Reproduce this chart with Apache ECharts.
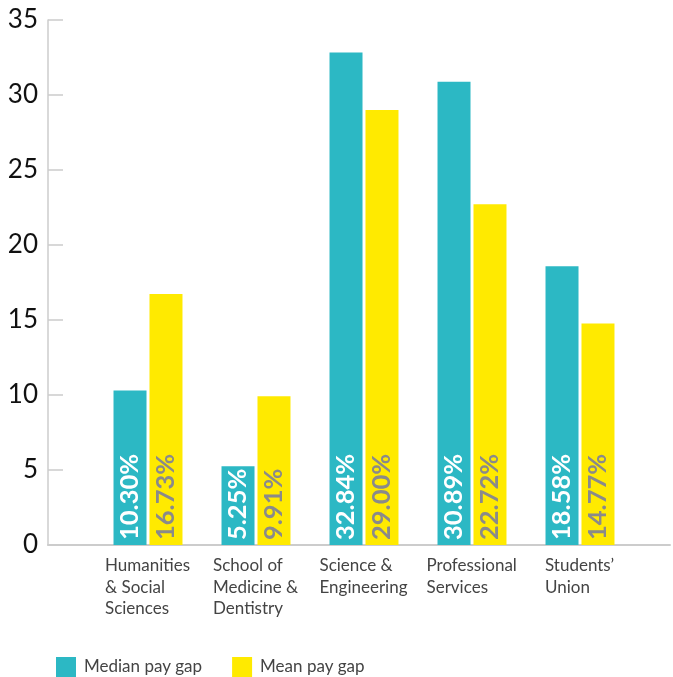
<!DOCTYPE html>
<html>
<head>
<meta charset="utf-8">
<script src="https://cdn.jsdelivr.net/npm/echarts@6/dist/echarts.min.js"></script>
<style>
  html, body { margin: 0; padding: 0; background: #fff; }
  #chart { width: 673px; height: 677px; }
</style>
</head>
<body>
<div id="chart"></div>
<script>
// pay gap by faculty
const categories = [
  "Humanities\n& Social\nSciences",
  "School of\nMedicine &\nDentistry",
  "Science &\nEngineering",
  "Professional\nServices",
  "Students’\nUnion"
];
const medianGap = [10.30, 5.25, 32.84, 30.89, 18.58];
const meanGap = [16.73, 9.91, 29.00, 22.72, 14.77];
const yTicks = [0, 5, 10, 15, 20, 25, 30, 35];

const FONT = "Lato";
const TEAL = "#2cb8c4";
const YELLOW = "#ffea00";

// measure each category block so lines can be left aligned in a centred block
const ctx = document.createElement("canvas").getContext("2d");
ctx.font = "17px " + FONT;
const rich = {};
categories.forEach((c, i) => {
  let w = 0;
  c.split("\n").forEach(l => { w = Math.max(w, ctx.measureText(l).width); });
  rich["c" + i] = { width: Math.ceil(w), align: "left", fontSize: 17, fontFamily: FONT, color: "#444", lineHeight: 21.5 };
});

const chart = echarts.init(document.getElementById("chart"));

const barLabel = (color) => ({
  show: true,
  position: "insideBottom",
  rotate: 90,
  align: "left",
  verticalAlign: "middle",
  distance: 5,
  fontFamily: FONT,
  fontWeight: "bold",
  fontSize: 25.5,
  color: color,
  formatter: p => p.value.toFixed(2) + "%"
});

chart.setOption({
  animation: false,
  textStyle: { fontFamily: FONT },
  legend: {
    left: 56,
    top: 657,
    padding: 0,
    icon: "rect",
    itemWidth: 20,
    itemHeight: 20,
    itemGap: 30,
    textStyle: { fontSize: 17, color: "#444", fontFamily: FONT, padding: [0, 0, 0, 3] },
    data: ["Median pay gap", "Mean pay gap"]
  },
  grid: [
    { left: 48, right: 3, top: 20, bottom: 132 },
    { left: 94, width: 540, top: 20, bottom: 132 }
  ],
  xAxis: [
    {
      gridIndex: 0,
      type: "value",
      min: 0,
      max: 1,
      axisLine: { show: true, lineStyle: { color: "#cccccc", width: 2 } },
      axisTick: { show: false },
      axisLabel: { show: false },
      splitLine: { show: false }
    },
    {
      gridIndex: 1,
      type: "category",
      data: categories,
      axisLine: { show: false },
      axisTick: { show: false },
      axisLabel: {
        margin: 10,
        interval: 0,
        formatter: (v, i) => v.split("\n").map(l => "{c" + i + "|" + l + "}").join("\n"),
        rich: rich
      }
    }
  ],
  yAxis: [
    {
      gridIndex: 0,
      type: "value",
      min: yTicks[0],
      max: yTicks[yTicks.length - 1],
      interval: 5,
      axisLine: { show: true, lineStyle: { color: "#cccccc", width: 1.5 } },
      axisTick: { show: true, inside: true, length: 15, lineStyle: { color: "#cccccc", width: 1.5 } },
      axisLabel: { fontSize: 26, color: "#111", fontFamily: FONT, margin: 10 },
      splitLine: { show: false }
    },
    {
      gridIndex: 1,
      type: "value",
      min: yTicks[0],
      max: yTicks[yTicks.length - 1],
      show: false
    }
  ],
  series: [
    {
      name: "Median pay gap",
      type: "bar",
      xAxisIndex: 1,
      yAxisIndex: 1,
      data: medianGap,
      barWidth: 33,
      barGap: "9%",
      itemStyle: { color: TEAL },
      label: barLabel("#ffffff")
    },
    {
      name: "Mean pay gap",
      type: "bar",
      xAxisIndex: 1,
      yAxisIndex: 1,
      data: meanGap,
      barWidth: 33,
      barGap: "9%",
      itemStyle: { color: YELLOW },
      label: barLabel("#8a8a8a")
    }
  ]
});
</script>
</body>
</html>
